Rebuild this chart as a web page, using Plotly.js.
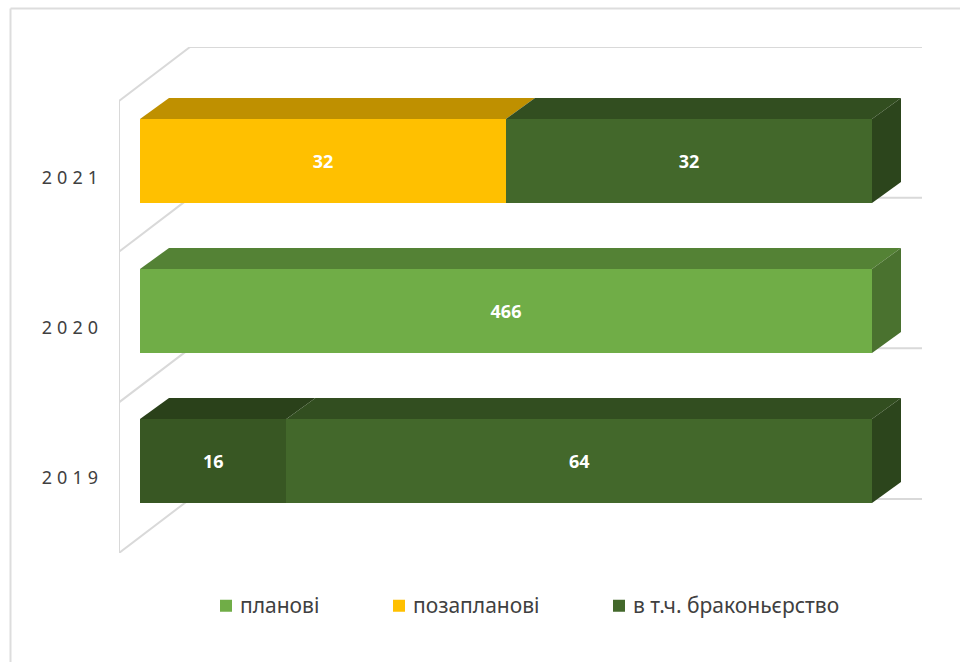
<!DOCTYPE html>
<html>
<head>
<meta charset="utf-8">
<script src="https://cdn.plot.ly/plotly-3.0.1.min.js"></script>
<style>
html,body{margin:0;padding:0;background:#fff;overflow:hidden}
#chart{width:960px;height:662px}
.ytick text{letter-spacing:5px}
.legendpoints{transform:translate(6px,1px)}
</style>
</head>
<body>
<div id="chart"></div>
<script>
// ---- data ----
const years = [2019, 2020, 2021];
const names = ['', 'планові', 'позапланові', 'в т.ч. браконьєрство'];
const unnamedPart = [16, null, null];
const planned = [null, 466, null];
const unplanned = [null, null, 32];
const poaching = [64, null, 32];
const seriesValues = [unnamedPart, planned, unplanned, poaching];
const seriesColors = ['#385723', '#70AD47', '#FFC000', '#43682B'];

// ---- geometry (pixels -> axis units) ----
const W = 960, H = 662;
const plot = {l: 119, r: 922, t: 47, b: 553};
const frontL = 140, frontR = 872, y2019 = 461, yPitch = 150;
const pxPerPct = (frontR - frontL) / 100;
const xRange = [(plot.l - frontL) / pxPerPct, (plot.r - frontL) / pxPerPct];
const yRange = [years[0] - (plot.b - y2019) / yPitch, years[0] + (y2019 - plot.t) / yPitch];
const depthX = 29 / pxPerPct, depthY = 21 / yPitch;
const barW = 84 / yPitch;
const wallDX = 71 / pxPerPct, wallDY = 54 / yPitch;
const labelShift = 17 / yPitch;

function shade(hex, k) {
  const n = parseInt(hex.slice(1), 16);
  const c = [n >> 16, (n >> 8) & 255, n & 255].map(v => Math.round(v * k));
  return `rgb(${c[0]},${c[1]},${c[2]})`;
}

const traces = [];
// front faces: real stacked bars
seriesValues.forEach((vals, s) => {
  traces.push({
    type: 'bar', orientation: 'h', y: years, x: vals, width: barW,
    name: names[s] || 'інше',
    marker: {color: seriesColors[s], line: {width: 0}},
    text: vals.map(v => v == null ? '' : String(v)),
    textposition: 'inside', insidetextanchor: 'middle', textangle: 0,
    insidetextfont: {family: 'Noto Sans, sans-serif', size: 18, color: '#fff', weight: 700},
    hoverinfo: 'skip', cliponaxis: false,
    showlegend: s > 0,
    legend: s === 1 ? 'legend' : s === 2 ? 'legend2' : 'legend3'
  });
});
// top and side faces, derived from the same values
function face(xs, ys, color) {
  traces.push({
    type: 'scatter', mode: 'lines', x: xs, y: ys, fill: 'toself', fillcolor: color,
    line: {width: 0}, hoverinfo: 'skip', showlegend: false
  });
}
years.forEach((yr, i) => {
  const total = seriesValues.reduce((a, v) => a + (v[i] || 0), 0);
  let cum = 0, last = null;
  const yTop = yr + barW / 2, yBot = yr - barW / 2;
  seriesValues.forEach((vals, s) => {
    const v = vals[i];
    if (!v) return;
    const a = cum / total * 100, b = (cum + v) / total * 100;
    face([a, b, b + depthX, a + depthX, a], [yTop, yTop, yTop + depthY, yTop + depthY, yTop], shade(seriesColors[s], 0.75));
    cum += v; last = s;
  });
  face([100, 100 + depthX, 100 + depthX, 100, 100],
       [yTop, yTop + depthY, yBot + depthY, yBot, yTop], shade(seriesColors[last], 0.66));
});

// walls and gridlines
const gridColor = '#D9D9D9';
const lineStyle = {color: gridColor, width: 2};
const shapes = [];
const x0 = xRange[0], y0 = yRange[0];
const wallBottom = y0, wallStep = (553 - 101) / 3 / yPitch;
[0, 1, 2, 3].forEach(k => {
  const yF = wallBottom + k * wallStep;
  shapes.push({type: 'line', layer: 'below', xref: 'x', yref: 'y', x0: x0, y0: yF, x1: x0 + wallDX, y1: yF + wallDY, line: lineStyle});
  shapes.push({type: 'line', layer: 'below', xref: 'x', yref: 'y', x0: x0 + wallDX, y0: yF + wallDY, x1: xRange[1], y1: yF + wallDY, line: lineStyle});
});
shapes.push({type: 'line', layer: 'below', xref: 'x', yref: 'y', x0: x0, y0: y0, x1: x0, y1: y0 + 3 * wallStep, line: lineStyle});
// outer picture frame (top and left edges)
const pw = plot.r - plot.l, ph = plot.b - plot.t;
const fx = (10.5 - plot.l) / pw, fy = (plot.b - 8.5) / ph, fx2 = (W - plot.l) / pw, fy2 = (plot.b - H) / ph;
shapes.push({type: 'line', xref: 'paper', yref: 'paper', x0: fx, y0: fy, x1: fx2, y1: fy, line: {color: '#DDDDDD', width: 2}});
shapes.push({type: 'line', xref: 'paper', yref: 'paper', x0: fx, y0: fy, x1: fx, y1: fy2, line: {color: '#DDDDDD', width: 2}});

const legendFont = {family: 'Noto Sans, sans-serif', size: 21, color: '#404040'};
function legendAt(px) {
  return {
    orientation: 'h', x: (px - plot.l) / pw, y: (plot.b - 605) / ph,
    xanchor: 'left', yanchor: 'middle', font: legendFont,
    bgcolor: 'rgba(0,0,0,0)', borderwidth: 0, itemclick: false, itemdoubleclick: false
  };
}

const layout = {
  width: W, height: H,
  margin: {l: plot.l, r: W - plot.r, t: plot.t, b: H - plot.b, pad: 0},
  paper_bgcolor: '#fff', plot_bgcolor: 'rgba(0,0,0,0)',
  barmode: 'stack', barnorm: 'percent',
  xaxis: {range: xRange, showgrid: false, zeroline: false, showticklabels: false, ticks: '', showline: false, fixedrange: true},
  yaxis: {
    range: yRange, showgrid: false, zeroline: false, showline: false, ticks: '', fixedrange: true,
    tickmode: 'array', tickvals: years.map(y => y - labelShift), ticktext: years.map(String),
    ticklabelstandoff: 15,
    tickfont: {family: 'Noto Sans, sans-serif', size: 18, color: '#404040'}
  },
  shapes: shapes,
  legend: legendAt(200), legend2: legendAt(373), legend3: legendAt(593)
};

Plotly.newPlot('chart', traces, layout, {displayModeBar: false});
</script>
</body>
</html>
